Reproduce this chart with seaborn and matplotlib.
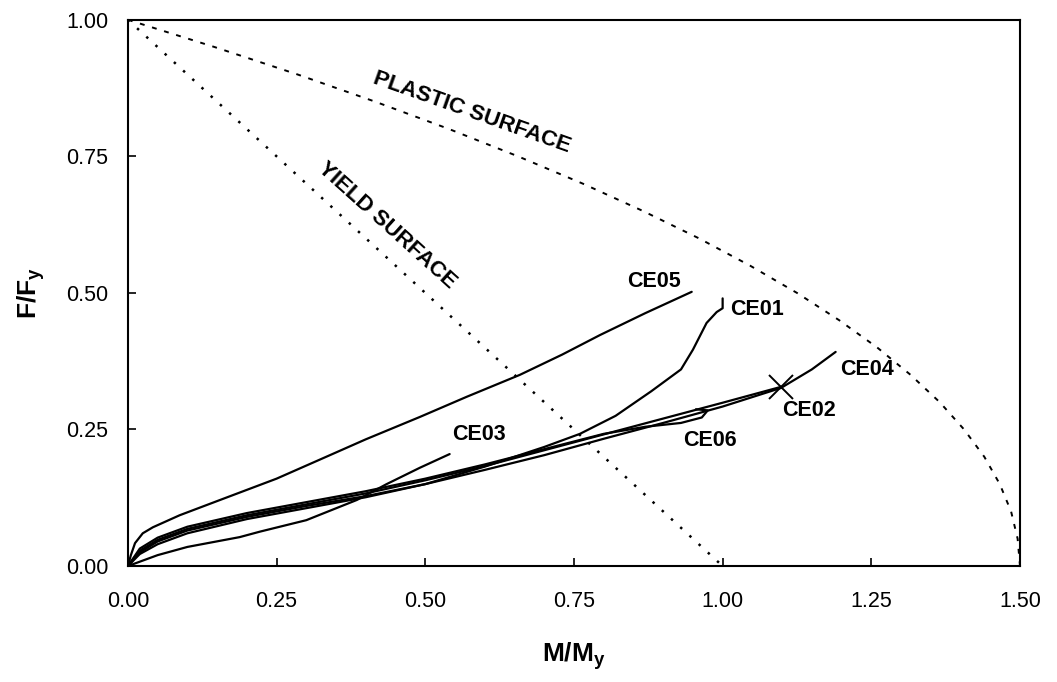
import numpy as np
import pandas as pd
import matplotlib
matplotlib.use("Agg")
import matplotlib.pyplot as plt
import seaborn as sns

# Interaction surfaces (normalised axial force vs normalised moment)
yield_m = [0.00, 1.00]
yield_f = [1.00, 0.00]

plastic_f = [1.00, 0.95, 0.90, 0.85, 0.80, 0.75, 0.70, 0.65, 0.60, 0.55, 0.50,
             0.45, 0.40, 0.35, 0.30, 0.25, 0.20, 0.15, 0.10, 0.05, 0.00]
plastic_m = [0.000, 0.146, 0.285, 0.416, 0.540, 0.656, 0.765, 0.866, 0.960, 1.046, 1.125,
             1.196, 1.260, 1.316, 1.365, 1.406, 1.440, 1.466, 1.485, 1.496, 1.500]

# Measured load paths of the specimens
ce01_m = [0.00, 0.02, 0.05, 0.10, 0.20, 0.30, 0.40, 0.50, 0.60, 0.70, 0.76, 0.82, 0.88, 0.93, 0.95, 0.973, 0.99, 1.00, 1.00]
ce01_f = [0.00, 0.025, 0.045, 0.065, 0.090, 0.110, 0.128, 0.150, 0.182, 0.218, 0.242, 0.275, 0.320, 0.360, 0.396, 0.445, 0.465, 0.472, 0.490]

ce02_m = [0.00, 0.02, 0.05, 0.10, 0.20, 0.30, 0.40, 0.50, 0.60, 0.70, 0.80, 0.90, 1.00, 1.098]
ce02_f = [0.00, 0.028, 0.048, 0.068, 0.093, 0.113, 0.133, 0.157, 0.183, 0.212, 0.241, 0.270, 0.299, 0.328]

ce03_m = [0.00, 0.05, 0.10, 0.188, 0.222, 0.30, 0.385, 0.435, 0.491, 0.541]
ce03_f = [0.00, 0.020, 0.035, 0.053, 0.063, 0.084, 0.121, 0.150, 0.180, 0.205]

ce04_m = [0.00, 0.02, 0.05, 0.10, 0.20, 0.30, 0.40, 0.50, 0.60, 0.70, 0.80, 0.90, 1.00, 1.098, 1.15, 1.19]
ce04_f = [0.00, 0.022, 0.040, 0.060, 0.086, 0.106, 0.126, 0.150, 0.176, 0.203, 0.233, 0.262, 0.292, 0.326, 0.360, 0.392]

ce05_m = [0.00, 0.005, 0.012, 0.025, 0.042, 0.087, 0.155, 0.25, 0.323, 0.40, 0.491, 0.57, 0.659, 0.73, 0.794, 0.87, 0.948]
ce05_f = [0.00, 0.020, 0.042, 0.060, 0.071, 0.093, 0.121, 0.160, 0.195, 0.232, 0.273, 0.310, 0.350, 0.387, 0.423, 0.463, 0.502]

ce06_m = [0.00, 0.02, 0.05, 0.10, 0.20, 0.30, 0.40, 0.50, 0.60, 0.70, 0.80, 0.87, 0.93, 0.965, 0.975, 0.955]
ce06_f = [0.00, 0.032, 0.052, 0.072, 0.097, 0.117, 0.137, 0.160, 0.186, 0.214, 0.242, 0.255, 0.262, 0.272, 0.285, 0.287]

x_ticks = [0.00, 0.25, 0.50, 0.75, 1.00, 1.25, 1.50]
y_ticks = [0.00, 0.25, 0.50, 0.75, 1.00]

sns.set_theme(style="ticks")
plt.rcParams["font.family"] = ["Liberation Sans", "DejaVu Sans"]
plt.rcParams["mathtext.fontset"] = "custom"
plt.rcParams["mathtext.rm"] = "Liberation Sans"
plt.rcParams["mathtext.bf"] = "Liberation Sans:bold"
plt.rcParams["axes.edgecolor"] = "black"
plt.rcParams["text.color"] = "black"
plt.rcParams["axes.labelcolor"] = "black"
plt.rcParams["xtick.color"] = "black"
plt.rcParams["ytick.color"] = "black"

fig = plt.figure(figsize=(10.57, 6.82), dpi=100)
ax = fig.add_axes([0.121, 0.170, 0.844, 0.801])

# surfaces
sns.lineplot(x=yield_m, y=yield_f, ax=ax, color="black", lw=1.8,
             linestyle=(0, (1.0, 4.0)), sort=False, estimator=None)
sns.lineplot(x=plastic_m, y=plastic_f, ax=ax, color="black", lw=1.4,
             linestyle=(0, (2.5, 4.0)), sort=False, estimator=None)

paths = {
    "CE01": (ce01_m, ce01_f),
    "CE02": (ce02_m, ce02_f),
    "CE03": (ce03_m, ce03_f),
    "CE04": (ce04_m, ce04_f),
    "CE05": (ce05_m, ce05_f),
    "CE06": (ce06_m, ce06_f),
}
for name, (m, f) in paths.items():
    sns.lineplot(x=m, y=f, ax=ax, color="black", lw=1.6, sort=False, estimator=None)

# failure marker at the end of CE02
ax.plot(ce02_m[-1], ce02_f[-1], marker="x", ms=17, mew=1.4, color="black")

label_pos = {
    "CE05": (0.885, 0.52, "center"),
    "CE01": (1.012, 0.469, "left"),
    "CE04": (1.197, 0.360, "left"),
    "CE02": (1.100, 0.284, "left"),
    "CE06": (0.933, 0.230, "left"),
    "CE03": (0.546, 0.240, "left"),
}
for name, (lx, ly, ha) in label_pos.items():
    ax.text(lx, ly, name, ha=ha, va="center", fontsize=15.5, fontweight="bold")

ax.text(0.578, 0.830, "PLASTIC SURFACE", rotation=-19.5, rotation_mode="anchor",
        ha="center", va="center", fontsize=16, fontweight="bold")
ax.text(0.436, 0.623, "YIELD SURFACE", rotation=-42, rotation_mode="anchor",
        ha="center", va="center", fontsize=16, fontweight="bold")

ax.set_xlim(0, 1.5)
ax.set_ylim(0, 1.0)
ax.set_xticks(x_ticks)
ax.set_yticks(y_ticks)
ax.set_xticklabels([f"{v:.2f}" for v in x_ticks])
ax.set_yticklabels([f"{v:.2f}" for v in y_ticks])
ax.tick_params(direction="in", length=6, width=1.2, labelsize=15.5, color="black")
ax.tick_params(axis="x", pad=18)
ax.tick_params(axis="y", pad=14)
for s in ax.spines.values():
    s.set_visible(True)
    s.set_linewidth(1.5)
    s.set_color("black")

ax.set_xlabel(r"$\mathbf{M/M_y}$", fontsize=19, labelpad=20)
ax.set_ylabel(r"$\mathbf{F/F_y}$", fontsize=19, labelpad=14)

fig.savefig("out.png", dpi=100, facecolor="white")
